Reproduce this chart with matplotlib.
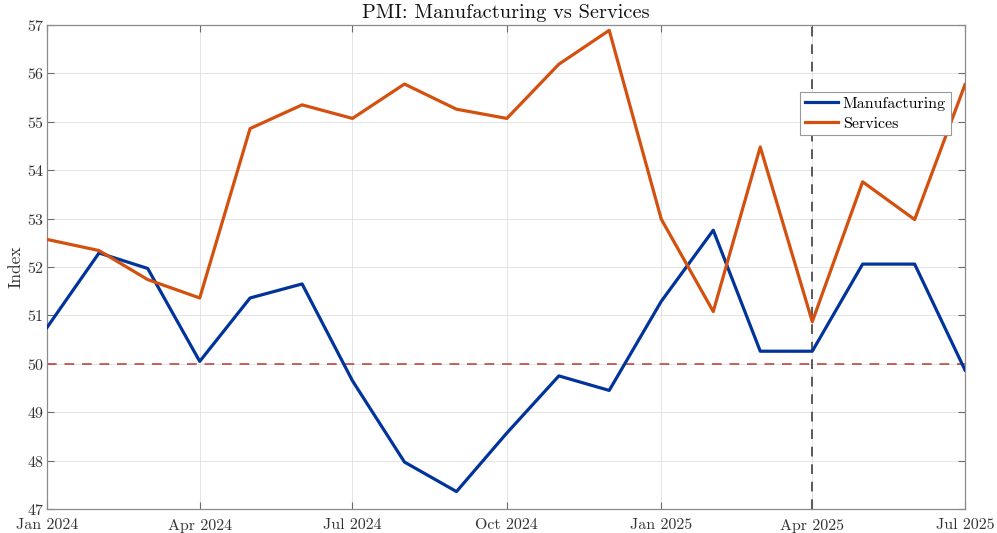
import numpy as np
import pandas as pd
import matplotlib
matplotlib.use("Agg")
import matplotlib.pyplot as plt
import matplotlib.dates as mdates

# monthly PMI readings, Jan 2024 .. Jul 2025
months = pd.date_range("2024-01-01", "2025-07-01", freq="MS")
manufacturing = [50.75, 52.29, 51.97, 50.05, 51.36, 51.65, 49.65, 47.97, 47.36, 48.57,
                 49.75, 49.45, 51.29, 52.76, 50.26, 50.26, 52.06, 52.06, 49.87]
services = [52.57, 52.34, 51.74, 51.36, 54.86, 55.35, 55.07, 55.78, 55.26, 55.07,
            56.19, 56.89, 52.99, 51.08, 54.48, 50.87, 53.76, 52.98, 55.77]
threshold = 50
marker_date = pd.Timestamp("2025-04-01")
xtick_dates = pd.date_range("2024-01-01", "2025-07-01", freq="3MS")

plt.rcParams['font.family'] = ['cmr10', 'DejaVu Serif']
plt.rcParams['axes.formatter.use_mathtext'] = True

fig = plt.figure(figsize=(9.97, 5.33), dpi=100)
ax = fig.add_axes([47/997, 1-509/533, 918/997, 484/533])

ax.plot(months, manufacturing, color='#00349A', lw=2.3, label='Manufacturing', zorder=3)
ax.plot(months, services, color='#D4500F', lw=2.3, label='Services', zorder=3)
ax.axhline(threshold, color='#C0504D', lw=1.4, ls=(0, (5, 4)), alpha=0.9, zorder=2)
ax.axvline(marker_date, color='#5a5a5a', lw=1.4, ls=(0, (5, 4)), zorder=2)

ax.set_xlim(months[0], months[-1])
ax.set_ylim(47, 57)
ax.set_yticks(np.arange(47, 58, 1))
ax.set_xticks(xtick_dates)
ax.xaxis.set_major_formatter(mdates.DateFormatter('%b %Y'))

ax.grid(True, color='#e4e4e4', lw=0.7, zorder=0)
ax.set_axisbelow(True)
for s in ax.spines.values():
    s.set_color('#8a8a8a')
    s.set_linewidth(0.9)
ax.tick_params(direction='in', top=True, right=True, length=5, width=0.8,
               color='#6a6a6a', labelsize=11.5, labelcolor='#333333', pad=2)
ax.tick_params(axis='x', pad=7)

ax.set_title('PMI: Manufacturing vs Services', fontsize=14.7, pad=5, color='#111111')
ax.set_ylabel('Index', fontsize=12.5, color='#333333', labelpad=2)

leg = ax.legend(loc='upper left', bbox_to_anchor=(0.820, 0.862), fontsize=11.5,
                frameon=True, fancybox=False, edgecolor='#999999', framealpha=1,
                handlelength=2.1, handletextpad=0.3, borderpad=0.3,
                labelspacing=0.35, borderaxespad=0)
leg.get_frame().set_linewidth(0.8)
leg.set_zorder(5)

fig.savefig('out.png', dpi=100)
